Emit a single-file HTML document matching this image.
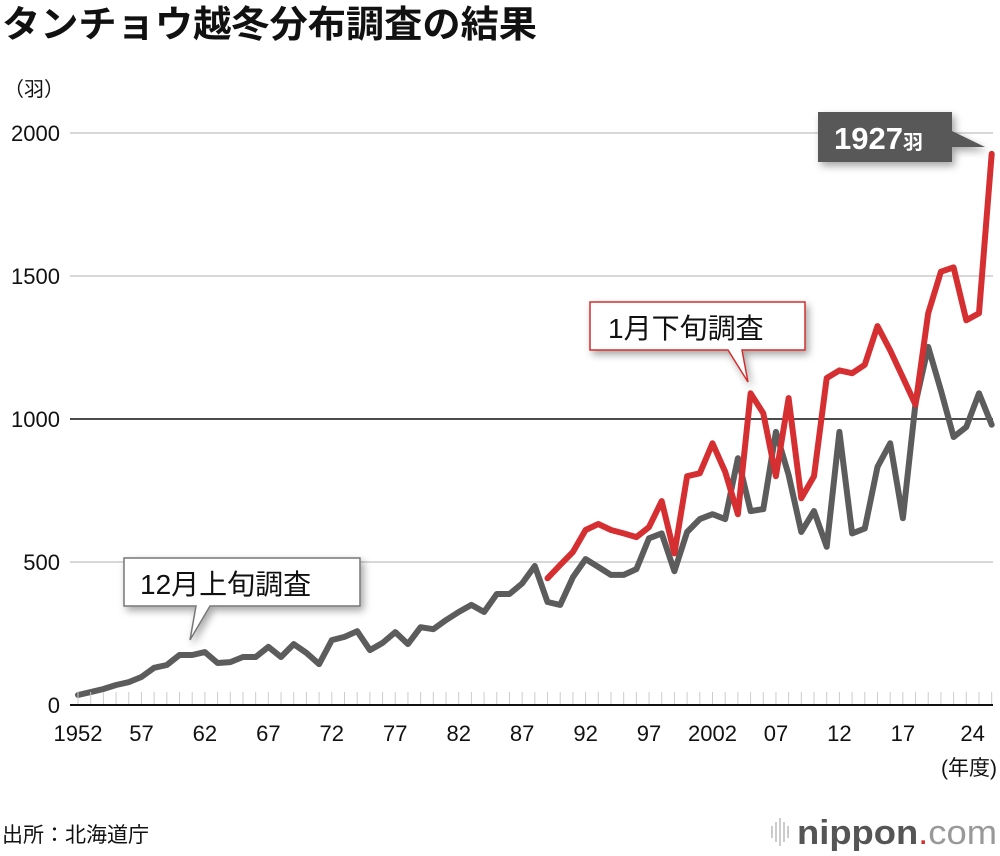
<!DOCTYPE html>
<html><head><meta charset="utf-8">
<style>
body{margin:0;background:#fff;width:1000px;height:856px;overflow:hidden;font-family:"Liberation Sans","Noto Sans CJK JP",sans-serif;}
svg{position:absolute;left:0;top:0}
</style></head>
<body>
<svg id="chart" width="1000" height="856" viewBox="0 0 1000 856" xmlns="http://www.w3.org/2000/svg">
<defs>
<filter id="sh" x="-20%" y="-20%" width="150%" height="160%"><feDropShadow dx="3" dy="4" stdDeviation="4" flood-color="#000" flood-opacity="0.35"/></filter>
</defs>
<text x="2" y="37" font-size="37" font-weight="bold" fill="#111" font-family="Liberation Sans, Noto Sans CJK JP, sans-serif" textLength="535" lengthAdjust="spacingAndGlyphs">タンチョウ越冬分布調査の結果</text>
<text x="4" y="96" font-size="20" fill="#111" font-family="Liberation Sans, Noto Sans CJK JP, sans-serif">（羽）</text>
<g id="grid"></g>
<g id="series"></g>
<g id="xaxis"></g>
<g>
<path d="M124,558 H360 V606 H210 L190,640 L196,606 H124 Z" fill="#fff" stroke="#777" stroke-width="1.5" filter="url(#sh)"/>
<text x="140" y="594" font-size="28" fill="#111" font-family="Liberation Sans, Noto Sans CJK JP, sans-serif">12月上旬調査</text>
</g>
<g>
<path d="M590,302 H805 V350 H742 L748,382 L728,350 H590 Z" fill="#fff" stroke="#d32f2f" stroke-width="1.5" filter="url(#sh)"/>
<text x="608" y="338" font-size="28" fill="#111" font-family="Liberation Sans, Noto Sans CJK JP, sans-serif">1月下旬調査</text>
</g>
<g>
<path d="M818,112 H952 V131 L985,147 L952,147 V162 H818 Z" fill="#595959" filter="url(#sh)"/>
<text x="834" y="149" font-size="31" font-weight="bold" fill="#fff">1927<tspan font-size="20" font-family="Liberation Sans, Noto Sans CJK JP, sans-serif">羽</tspan></text>
</g>
<text x="997" y="775" text-anchor="end" font-size="21" fill="#111" font-family="Liberation Sans, Noto Sans CJK JP, sans-serif">(年度)</text>
<text x="2" y="842" font-size="21" fill="#111" font-family="Liberation Sans, Noto Sans CJK JP, sans-serif">出所：北海道庁</text>
<g>
<g stroke="#bbb" stroke-width="1.5"><line x1="772" y1="826" x2="772" y2="838"/><line x1="776" y1="822" x2="776" y2="842"/><line x1="780" y1="818" x2="780" y2="846"/><line x1="784" y1="822" x2="784" y2="842"/><line x1="788" y1="826" x2="788" y2="838"/></g>
<text x="997" y="844" text-anchor="end" font-size="34" fill="#555" textLength="200" lengthAdjust="spacingAndGlyphs"><tspan font-weight="bold">nippon</tspan><tspan fill="#d32f2f">.</tspan><tspan fill="#999">com</tspan></text>
</g>
</svg>
<script>
const years=[];for(let y=1952;y<=2024;y++)years.push(y);
const decemberCounts=[35,45,56,70,80,98,130,140,175,175,185,147,150,168,168,203,168,213,182,143,227,238,258,192,217,255,213,272,265,297,325,350,325,388,388,425,486,360,350,447,510,483,455,455,475,583,600,468,605,650,667,650,863,678,685,955,805,605,678,553,955,600,617,833,915,653,1055,1252,1100,937,972,1090,980];
const januaryYears=[1989,1990,1991,1992,1993,1994,1995,1996,1997,1998,1999,2000,2001,2002,2003,2004,2005,2006,2007,2008,2009,2010,2011,2012,2013,2014,2015,2016,2017,2018,2019,2020,2021,2022,2023,2024];
const januaryCounts=[443,490,535,612,633,612,600,587,622,713,530,800,810,915,815,667,1090,1020,800,1073,723,800,1143,1170,1160,1190,1325,1240,1145,1050,1370,1515,1530,1345,1370,1927];
const yTicks=[0,500,1000,1500,2000];
const xTickLabels=["1952","57","62","67","72","77","82","87","92","97","2002","07","12","17","24"];
const xTickYears=[1952,1957,1962,1967,1972,1977,1982,1987,1992,1997,2002,2007,2012,2017,2022.5];
const NS="http://www.w3.org/2000/svg";
const X=y=>78+(y-1952)*12.69;
const Y=v=>705-v*0.286;
function mk(t,a,p){const e=document.createElementNS(NS,t);for(const k in a)e.setAttribute(k,a[k]);p.appendChild(e);return e;}
const grid=document.getElementById('grid'),series=document.getElementById('series'),xa=document.getElementById('xaxis');
yTicks.forEach(v=>{
 const l=mk('line',{x1:70,x2:993,y1:Y(v),y2:Y(v),stroke:(v===0||v===1000)?'#111':'#ccc','stroke-width':(v===0)?2:1.5},grid);
 
 
 const t=mk('text',{x:60,y:Y(v)+8,'text-anchor':'end','font-size':22,fill:'#111'},grid);
 t.textContent=v;
 
 
});
years.forEach(y=>{
 const tk=mk('line',{x1:X(y),x2:X(y),y1:Y(0)-13,y2:Y(0)-1,stroke:'#ccc','stroke-width':1},xa);
 
 
});
xTickLabels.forEach((s,i)=>{
 const t=mk('text',{x:X(xTickYears[i]),y:741,'text-anchor':'middle','font-size':22,fill:'#111'},xa);
 t.textContent=s;
 
 
});
const dp=years.map((y,i)=>X(y).toFixed(1)+','+Y(decemberCounts[i]).toFixed(1)).join(' ');
const g1=mk('polyline',{points:dp,fill:'none',stroke:'#5c5c5c','stroke-width':6,'stroke-linejoin':'round','stroke-linecap':'round'},series);


const jp=januaryYears.map((y,i)=>X(y).toFixed(1)+','+Y(januaryCounts[i]).toFixed(1)).join(' ');
const g2=mk('polyline',{points:jp,fill:'none',stroke:'#d62f32','stroke-width':6,'stroke-linejoin':'round','stroke-linecap':'round'},series);


</script>
</body></html>
